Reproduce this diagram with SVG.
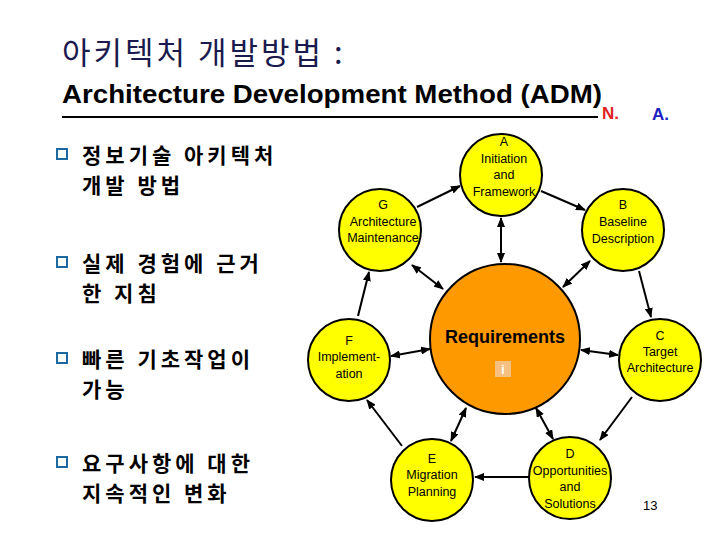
<svg xmlns="http://www.w3.org/2000/svg" width="720" height="540" viewBox="0 0 720 540">
<style>
.n{fill:#ffff00;stroke:#000;stroke-width:2}
.t{font-family:"Liberation Sans",Arial,sans-serif;font-size:12.5px;text-anchor:middle;fill:#000}
.k{font-family:"Noto Sans CJK KR","Liberation Sans",sans-serif;font-size:21px;font-weight:bold;fill:#000;letter-spacing:4px}
.c line{stroke:#000;stroke-width:2}
.b{fill:#fff;stroke:#1a6aa0;stroke-width:2}
</style>
<defs>
<marker id="ah" markerWidth="10" markerHeight="8" refX="9" refY="4" orient="auto" markerUnits="userSpaceOnUse"><path d="M0,0L10,4L0,8z" fill="#000"/></marker>
<marker id="as" markerWidth="10" markerHeight="8" refX="1" refY="4" orient="auto" markerUnits="userSpaceOnUse"><path d="M10,0L0,4L10,8z" fill="#000"/></marker>
</defs>
<rect width="720" height="540" fill="#fff"/>
<text x="62" y="64" font-family="'Noto Sans CJK KR',sans-serif" font-size="31" fill="#1a1a4e" letter-spacing="3">아키텍처 개발방법 :</text>
<text x="62" y="103" font-family="'Liberation Sans',Arial,sans-serif" font-size="25" font-weight="bold" fill="#000" textLength="540" lengthAdjust="spacingAndGlyphs">Architecture Development Method (ADM)</text>
<line x1="62" y1="117" x2="598" y2="117" stroke="#000" stroke-width="2"/>
<text x="602" y="119" font-family="'Liberation Sans',Arial,sans-serif" font-size="17" font-weight="bold" fill="#e02020">N.</text>
<text x="652" y="120" font-family="'Liberation Sans',Arial,sans-serif" font-size="17" font-weight="bold" fill="#2020c0">A.</text>
<g id="bullets">
<rect class="b" x="57" y="149" width="10" height="10"/>
<text class="k" x="82" y="163">정보기술 아키텍처</text><text class="k" x="82" y="193">개발 방법</text>
<rect class="b" x="57" y="257" width="10" height="10"/>
<text class="k" x="82" y="271">실제 경험에 근거</text><text class="k" x="82" y="301">한 지침</text>
<rect class="b" x="57" y="353" width="10" height="10"/>
<text class="k" x="82" y="367">빠른 기초작업이</text><text class="k" x="82" y="397">가능</text>
<rect class="b" x="57" y="457" width="10" height="10"/>
<text class="k" x="82" y="471">요구사항에 대한</text><text class="k" x="82" y="501">지속적인 변화</text>
</g>
<g class="c" id="connectors">
<line x1="417" y1="207" x2="460" y2="186" marker-end="url(#ah)"/>
<line x1="541" y1="191" x2="585" y2="210" marker-end="url(#ah)"/>
<line x1="639" y1="271" x2="651" y2="317" marker-end="url(#ah)"/>
<line x1="632" y1="397" x2="600" y2="440" marker-end="url(#ah)"/>
<line x1="529" y1="477" x2="475" y2="477" marker-end="url(#ah)"/>
<line x1="402" y1="446" x2="367" y2="400" marker-end="url(#ah)"/>
<line x1="358" y1="316" x2="369" y2="272" marker-end="url(#ah)"/>
<line x1="501" y1="218" x2="501" y2="262" marker-start="url(#as)" marker-end="url(#ah)"/>
<line x1="590" y1="261" x2="563" y2="287" marker-start="url(#as)" marker-end="url(#ah)"/>
<line x1="618" y1="355" x2="581" y2="350" marker-start="url(#as)" marker-end="url(#ah)"/>
<line x1="553" y1="439" x2="536" y2="408" marker-start="url(#as)" marker-end="url(#ah)"/>
<line x1="451" y1="441" x2="466" y2="408" marker-start="url(#as)" marker-end="url(#ah)"/>
<line x1="391" y1="356" x2="430" y2="349" marker-start="url(#as)" marker-end="url(#ah)"/>
<line x1="412" y1="265" x2="443" y2="289" marker-start="url(#as)" marker-end="url(#ah)"/>
</g>
<g id="req"><circle cx="505" cy="339" r="75" fill="#ff9900" stroke="#000" stroke-width="2"/>
<text x="505" y="343" font-family="'Liberation Sans',Arial,sans-serif" font-size="18" font-weight="bold" text-anchor="middle">Requirements</text>
<rect x="495" y="361" width="16" height="16" fill="#f5c080"/><text x="503" y="374" font-family="'Liberation Sans',sans-serif" font-size="12" font-weight="bold" text-anchor="middle" fill="#fff">i</text></g>
<g id="A"><circle class="n" cx="501" cy="175" r="41"/><text class="t" x="504" y="146">A</text><text class="t" x="504" y="163">Initiation</text><text class="t" x="504" y="179">and</text><text class="t" x="504" y="196">Framework</text></g>
<g id="B"><circle class="n" cx="623" cy="230" r="41"/><text class="t" x="623" y="209">B</text><text class="t" x="623" y="226">Baseline</text><text class="t" x="623" y="243">Description</text></g>
<g id="C"><circle class="n" cx="660" cy="360" r="41"/><text class="t" x="660" y="340">C</text><text class="t" x="660" y="356">Target</text><text class="t" x="660" y="372">Architecture</text></g>
<g id="D"><circle class="n" cx="570" cy="478" r="41"/><text class="t" x="570" y="458">D</text><text class="t" x="570" y="475">Opportunities</text><text class="t" x="570" y="491">and</text><text class="t" x="570" y="508">Solutions</text></g>
<g id="E"><circle class="n" cx="432" cy="480" r="41"/><text class="t" x="432" y="463">E</text><text class="t" x="432" y="479">Migration</text><text class="t" x="432" y="496">Planning</text></g>
<g id="F"><circle class="n" cx="349" cy="360" r="41"/><text class="t" x="349" y="345">F</text><text class="t" x="349" y="361">Implement-</text><text class="t" x="349" y="378">ation</text></g>
<g id="G"><circle class="n" cx="380" cy="230" r="41"/><text class="t" x="383" y="209">G</text><text class="t" x="383" y="226">Architecture</text><text class="t" x="383" y="242">Maintenance</text></g>
<text x="643" y="510" font-family="'Liberation Sans',Arial,sans-serif" font-size="13">13</text>
</svg>
